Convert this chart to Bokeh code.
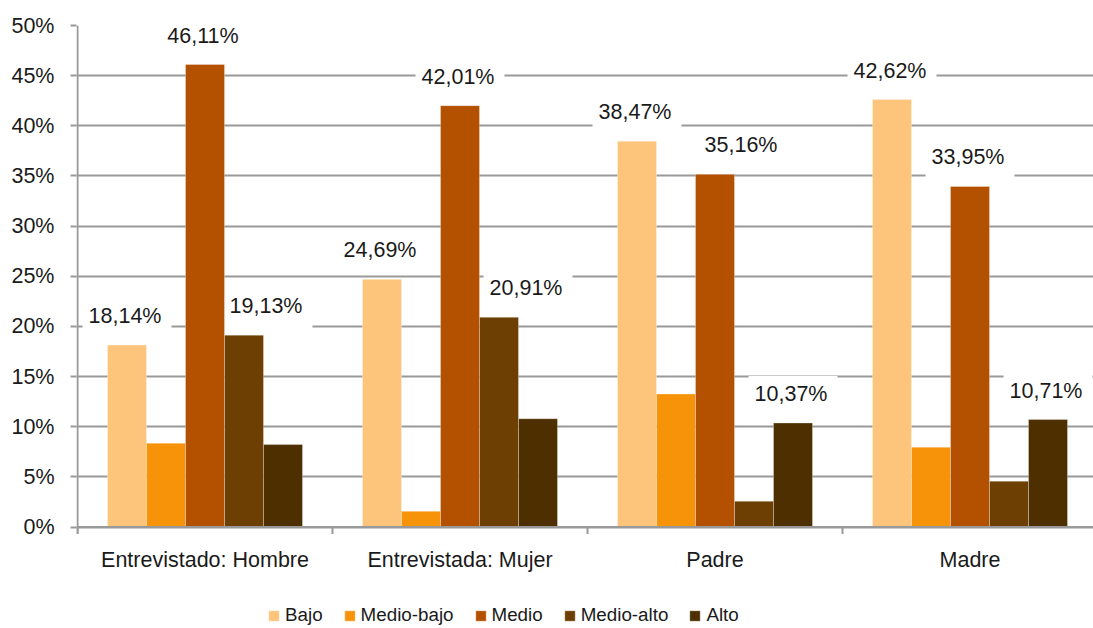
from bokeh.plotting import figure
from bokeh.models import ColumnDataSource, Range1d, FixedTicker, Legend, LegendItem, Span
from bokeh.core.properties import value
from bokeh.embed import file_html
from bokeh.resources import INLINE

# ---------------- data ----------------
categories = ["Entrevistado: Hombre", "Entrevistada: Mujer", "Padre", "Madre"]
series_names = ["Bajo", "Medio-bajo", "Medio", "Medio-alto", "Alto"]

bajo = [18.14, 24.69, 38.47, 42.62]
medio_bajo = [8.36, 1.57, 13.26, 7.96]
medio = [46.11, 42.01, 35.16, 33.95]
medio_alto = [19.13, 20.91, 2.57, 4.57]
alto = [8.22, 10.80, 10.37, 10.71]

# which bars carry a value label in the original
label_bajo = [True, True, True, True]
label_medio_bajo = [False, False, False, False]
label_medio = [True, True, True, True]
label_medio_alto = [True, True, False, False]
label_alto = [False, False, True, True]

y_ticks = [0, 5, 10, 15, 20, 25, 30, 35, 40, 45, 50]

colors = ["#FDC47C", "#F79308", "#B45100", "#6E3F02", "#4E2F00"]

series_values = [bajo, medio_bajo, medio, medio_alto, alto]
series_labels = [label_bajo, label_medio_bajo, label_medio, label_medio_alto, label_alto]

# ---------------- layout / style ----------------
FONT = "Liberation Sans"
FS = "21.5px"
LEG_FS = "18.8px"
TXT = "#1a1a1a"
GRID = "#999999"
W, H = 1093, 628
LEFT, TOP = 76, 25          # frame starts one pixel left of the value axis
AXIS_X = 77                 # pixel of the value axis
ZERO_Y = 526.5              # pixel of the 0% line
GROUP_PX = 255              # width of one category band
PX = (ZERO_Y - TOP) / 50.0  # pixels per percentage point
BAR_W = 39 / GROUP_PX
TICK = 7
LABEL_RAISE = 27            # px between bar top and label centre
# labels that were moved sideways in the original (series index, group index) -> px
LABEL_NUDGE = {(3, 0): 24, (3, 1): 29, (2, 2): 28}

x_start = -(AXIS_X - LEFT) / GROUP_PX
x_end = (W - AXIS_X) / GROUP_PX
y_start = -(H - ZERO_Y) / PX

p = figure(width=W, height=H, output_backend="svg", toolbar_location=None,
           x_range=Range1d(x_start, x_end), y_range=Range1d(y_start, 50),
           x_axis_location=None,
           min_border_left=LEFT, min_border_top=TOP, min_border_right=0,
           min_border_bottom=0)
p.outline_line_color = None
p.background_fill_color = "white"
p.border_fill_color = "white"

# value labels first (bars are drawn over their boxes, as in the original)
lab = dict(x=[], y=[], text=[], dx=[])
for s, (vals, flags) in enumerate(zip(series_values, series_labels)):
    for g, (v, f) in enumerate(zip(vals, flags)):
        if f:
            lab["x"].append(g + 0.5 + (s - 2) * BAR_W)
            lab["y"].append(v)
            lab["text"].append(f"{v:.2f}".replace(".", ",") + "%")
            lab["dx"].append(LABEL_NUDGE.get((s, g), 0))
p.text(x="x", y="y", text="text", x_offset="dx", y_offset=-LABEL_RAISE,
       source=ColumnDataSource(lab),
       text_font=value(FONT), text_font_size=FS,
       text_color=TXT, text_align="center", text_baseline="middle",
       background_fill_color="white", padding=(6, 10, 6, 10))

renderers = []
for s, (name, vals) in enumerate(zip(series_names, series_values)):
    src = ColumnDataSource(dict(x=[g + 0.5 + (s - 2) * BAR_W for g in range(len(categories))],
                                top=vals))
    r = p.vbar(x="x", top="top", bottom=0, width=BAR_W, source=src,
               fill_color=colors[s], line_color="white", line_alpha=0.3, line_width=1)
    renderers.append(r)

# y axis (line drawn only over 0..50 %)
yax = p.yaxis[0]
yax.ticker = FixedTicker(ticks=y_ticks)
yax.major_label_overrides = {t: f"{t}%" for t in y_ticks}
yax.major_tick_out = AXIS_X - 71
yax.major_tick_in = 0
yax.minor_tick_line_color = None
yax.axis_line_color = None
yax.major_tick_line_color = GRID
yax.major_tick_line_width = 2
yax.major_label_text_font = FONT
yax.major_label_text_font_size = FS
yax.major_label_text_color = TXT
yax.major_label_standoff = 16
p.segment(x0=[0], y0=[-TICK / PX], x1=[0], y1=[50], line_color=GRID, line_width=2)

p.xgrid.grid_line_color = None
p.ygrid.grid_line_color = GRID
p.ygrid.grid_line_width = 2
p.ygrid.ticker = FixedTicker(ticks=y_ticks)

# category axis: line at 0 %, ticks on the band boundaries, labels at band centres
p.add_layout(Span(location=0, dimension="width", line_color=GRID, line_width=2))
bounds = list(range(len(categories) + 1))
p.segment(x0=bounds, y0=[0] * len(bounds), x1=bounds, y1=[-TICK / PX] * len(bounds),
          line_color=GRID, line_width=2)
p.text(x=[g + 0.5 for g in range(len(categories))], y=[0] * len(categories), text=categories,
       text_font=value(FONT), text_font_size=FS, text_color=TXT,
       text_align="center", text_baseline="middle", y_offset=33)

legend = Legend(items=[LegendItem(label=n, renderers=[r]) for n, r in zip(series_names, renderers)],
                orientation="horizontal", location=(267 - LEFT, 2),
                label_text_font=FONT, label_text_font_size=LEG_FS, label_text_color=TXT,
                glyph_width=13, glyph_height=13, label_standoff=5, spacing=20,
                padding=0, margin=0, border_line_color=None, background_fill_alpha=0)
p.add_layout(legend, "center")

open("out.html", "w").write(file_html(p, INLINE))
